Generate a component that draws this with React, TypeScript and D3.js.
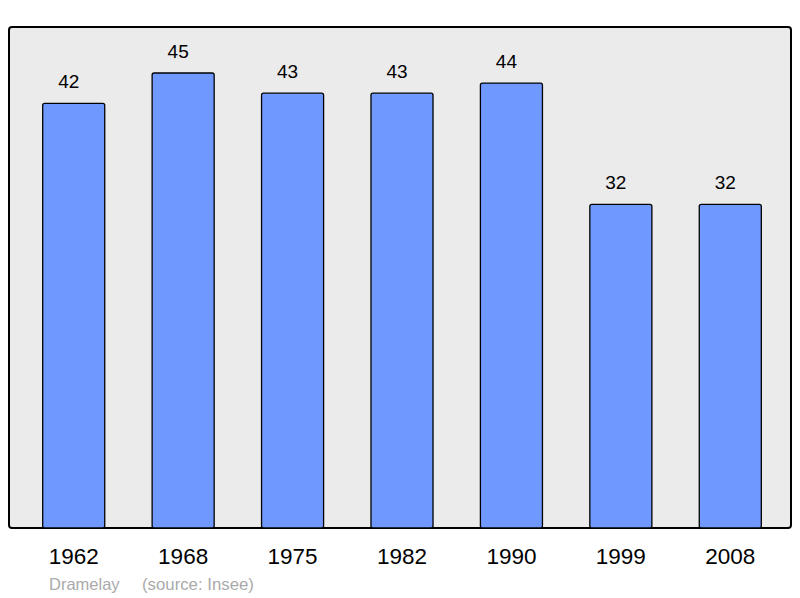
import React from 'react';
import * as d3 from 'd3';

const years = ['1962', '1968', '1975', '1982', '1990', '1999', '2008'];
const population = [42, 45, 43, 43, 44, 32, 32];
const commune = 'Dramelay';
const source = '(source: Insee)';

const App = () => {
  const width = 800;
  const height = 598;

  // frame of the plot area
  const frame = { x: 9, y: 27, w: 782, h: 501 };

  const x = d3
    .scaleBand()
    .domain(years)
    .range([19, 785])
    .paddingInner(0.433)
    .paddingOuter(0.2165);

  const y = d3.scaleLinear().domain([0, 45]).range([528, 73]);

  return (
    <svg
      width={width}
      height={height}
      style={{ position: 'absolute', left: 0, top: 0 }}
      fontFamily="'Liberation Sans', Arial, sans-serif"
    >
      <rect width={width} height={height} fill="#ffffff" />
      <rect
        x={frame.x}
        y={frame.y}
        width={frame.w}
        height={frame.h}
        rx={3}
        fill="#ebebeb"
        stroke="#000"
        strokeWidth={2}
      />
      {years.map((yr, i) => (
        <g key={yr}>
          <rect
            x={x(yr)}
            y={y(population[i])}
            width={x.bandwidth()}
            height={y(0) - y(population[i])}
            rx={2}
            fill="#7099ff"
            stroke="#000"
            strokeWidth={1.3}
          />
          <text
            x={(x(yr) as number) + x.bandwidth() / 2 - 5}
            y={y(population[i]) - 15}
            textAnchor="middle"
            fontSize={19}
            fill="#000"
          >
            {population[i]}
          </text>
          <text
            x={(x(yr) as number) + x.bandwidth() / 2}
            y={564}
            textAnchor="middle"
            fontSize={22.5}
            fill="#000"
          >
            {yr}
          </text>
        </g>
      ))}
      <text x={49} y={590} fontSize={16.5} fill="#aaaaaa">
        {commune}
      </text>
      <text x={142} y={590} fontSize={16.8} fill="#aaaaaa">
        {source}
      </text>
    </svg>
  );
};

export default App;
